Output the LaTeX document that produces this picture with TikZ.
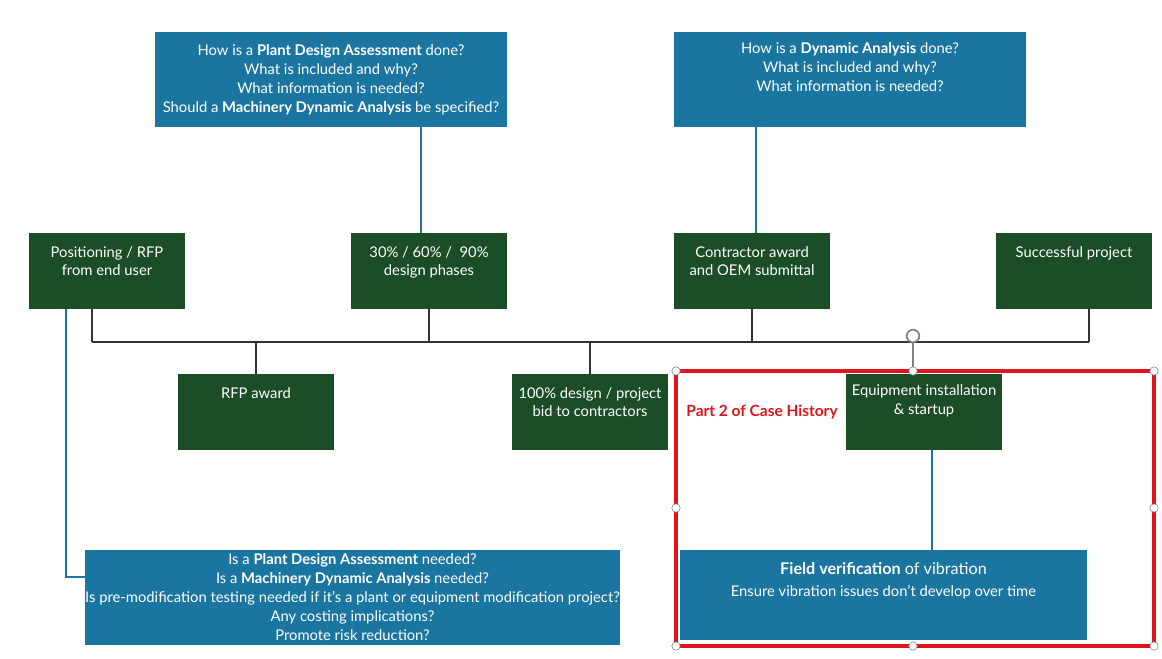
\documentclass[tikz,border=0pt]{standalone}
\usepackage{fontspec}
\setmainfont{Lato}
\definecolor{qblue}{HTML}{1A76A0}
\definecolor{qgreen}{HTML}{1B4D27}
\definecolor{selred}{HTML}{E0141B}
\begin{document}
\begin{tikzpicture}[x=0.025cm, y=-0.025cm, font=\fontsize{10.5}{13.5}\selectfont,
	question/.style={shape=rectangle, fill=qblue, text=white, align=center,
	                 inner sep=0pt},
	stage/.style={shape=rectangle, fill=qgreen, text=white, align=center,
	              minimum width=156*0.025cm, minimum height=76*0.025cm, inner sep=0pt},
	handle/.style={shape=circle, draw=gray, fill=white, inner sep=0pt, minimum size=6pt}]
	\useasboundingbox (0,0) rectangle (1162,658);

	% questions
	\node[question, minimum width=352*0.025cm, minimum height=95*0.025cm] (qplant) at (331,79.5)
		{How is a \textbf{Plant Design Assessment} done?\\What is included and why?\\What information is needed?\\Should a \textbf{Machinery Dynamic Analysis} be specified?};
	\node[question, minimum width=352*0.025cm, minimum height=95*0.025cm, text depth=18pt] (qdyn) at (850,79.5)
		{How is a \textbf{Dynamic Analysis} done?\\What is included and why?\\What information is needed?};
	\node[question, minimum width=525*0.025cm, minimum height=95*0.025cm] (qneed) at (352.5,597.5)
		{Is a \textbf{Plant Design Assessment} needed?\\Is a \textbf{Machinery Dynamic Analysis} needed?\\Is pre-modification testing needed if it's a plant or equipment modification project?\\Any costing implications?\\Promote risk reduction?};
	\node[question, minimum width=407*0.025cm, minimum height=90*0.025cm, text depth=22pt] (qfield) at (883.5,595)
		{{\fontsize{11.5}{14}\selectfont\textbf{Field verification} of vibration}\\[2pt]Ensure vibration issues don't develop over time};

	% stages above the line
	\node[stage, label={[anchor=north, text=white, align=center, yshift=-6pt]north:Positioning / RFP\\from end user}] (rfp) at (107,271) {};
	\node[stage, label={[anchor=north, text=white, align=center, yshift=-6pt]north:30\% / 60\% /\ \ 90\%\\design phases}] (phases) at (429,271) {};
	\node[stage, label={[anchor=north, text=white, align=center, yshift=-6pt]north:Contractor award\\and OEM submittal}] (award) at (752,271) {};
	\node[stage, label={[anchor=north, text=white, align=center, yshift=-6pt]north:Successful project}] (success) at (1074,271) {};

	% stages below the line
	\node[stage, label={[anchor=north, text=white, align=center, yshift=-6pt]north:RFP award}] (rfpaward) at (256,412) {};
	\node[stage, label={[anchor=north, text=white, align=center, yshift=-6pt]north:100\% design / project\\bid to contractors}] (bid) at (590,412) {};
	\node[stage, label={[anchor=north, text=white, align=center, yshift=-4pt]north:Equipment installation\\\& startup}] (install) at (924,412) {};

	% timeline
	\coordinate (t1) at (92,342);
	\coordinate (t2) at (1089,342);
	\draw[gray!40!black, thick] (t1) -- (t2);
	\draw[gray!40!black, thick] (t1) -- (t1 |- rfp.south);
	\draw[gray!40!black, thick] (phases.south) -- (phases.south |- t1);
	\draw[gray!40!black, thick] (award.south) -- (award.south |- t1);
	\draw[gray!40!black, thick] (t2) -- (t2 |- success.south);
	\draw[gray!40!black, thick] (rfpaward.north) -- (rfpaward.north |- t1);
	\draw[gray!40!black, thick] (bid.north) -- (bid.north |- t1);

	% question links
	\coordinate (c1) at (421,127);
	\draw[qblue, thick] (c1) -- (c1 |- phases.north);
	\coordinate (c2) at (756,127);
	\draw[qblue, thick] (c2) -- (c2 |- award.north);
	\coordinate (c3) at (66,309);
	\draw[qblue, thick] (c3) |- (qneed.west |- 0,577);
	\coordinate (c4) at (932,450);
	\draw[qblue, thick] (c4) -- (c4 |- qfield.north);

	% selection frame
	\draw[selred, line width=3pt] (676,371) rectangle (1154,646);
	\node[text=selred, font=\fontsize{11}{13}\selectfont\bfseries] (part) at (762,412) {Part 2 of Case History};
	\coordinate (rot) at (913,336);
	\draw[gray, thick] (rot) -- (913,371);
	\node[handle, minimum size=9pt, line width=1.2pt] (roth) at (rot) {};
	\foreach \hx/\hy [count=\i] in {676/371, 913/371, 1154/371, 676/508, 1154/508, 676/646, 913/646, 1154/646}
		\node[handle] (h\i) at (\hx,\hy) {};
\end{tikzpicture}
\end{document}
